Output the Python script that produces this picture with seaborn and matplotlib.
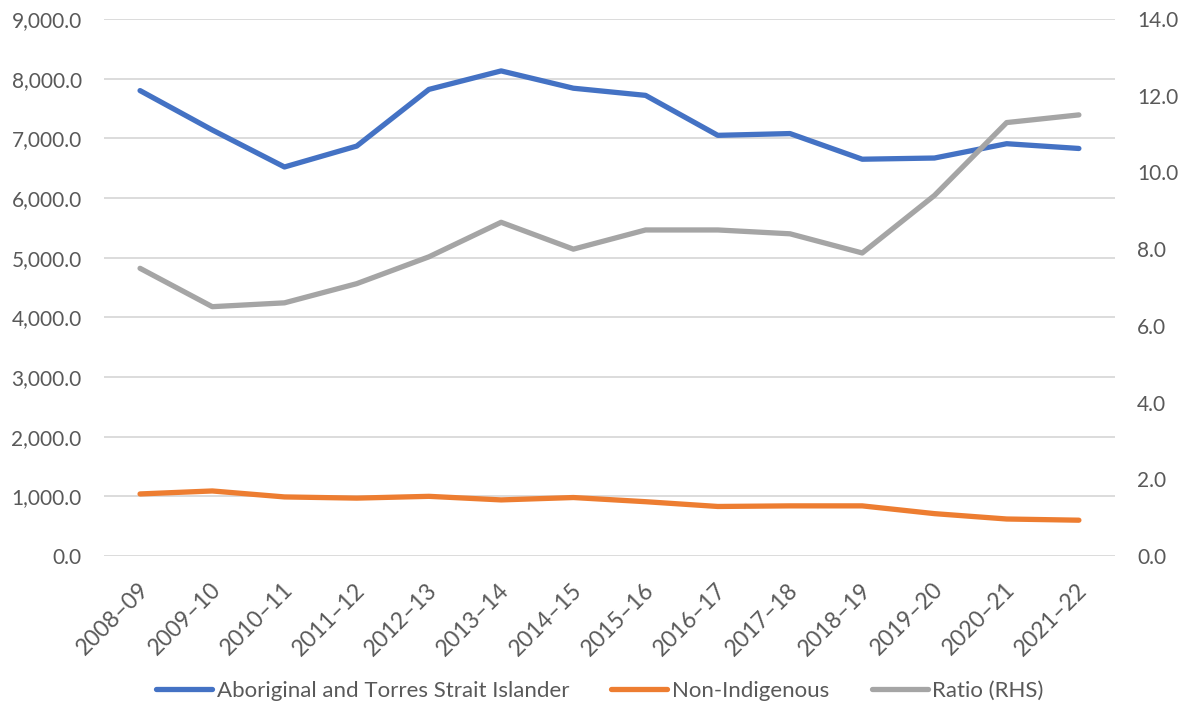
import pandas as pd
import numpy as np
import matplotlib
matplotlib.use("Agg")
import matplotlib.pyplot as plt
import matplotlib.transforms as mtransforms
import seaborn as sns
from matplotlib.ticker import FuncFormatter, MultipleLocator

#---------------------------------------------------
#   データ
#---------------------------------------------------
years = ["2008–09", "2009–10", "2010–11", "2011–12", "2012–13", "2013–14", "2014–15",
         "2015–16", "2016–17", "2017–18", "2018–19", "2019–20", "2020–21", "2021–22"]
aboriginal = [7800, 7140, 6520, 6870, 7820, 8130, 7840, 7720, 7050, 7080, 6650, 6670, 6910, 6830]
non_indigenous = [1040, 1090, 990, 970, 1000, 940, 980, 910, 830, 840, 840, 710, 620, 600]
ratio = [7.5, 6.5, 6.6, 7.1, 7.8, 8.7, 8.0, 8.5, 8.5, 8.4, 7.9, 9.4, 11.3, 11.5]

labels = ["Aboriginal and Torres Strait Islander", "Non-Indigenous", "Ratio (RHS)"]

df = pd.DataFrame({"Year": years,
                   labels[0]: aboriginal,
                   labels[1]: non_indigenous,
                   labels[2]: ratio})

sns.set_theme(style="white")
plt.rcParams['font.family'] = ['Lato', 'DejaVu Sans']

text_col = "#595959"
grid_col = "#D9D9D9"
colors = ["#4472C4", "#ED7D31", "#A5A5A5"]
lw = 3.8

fig = plt.figure(figsize=(11.92, 7.09), dpi=100)
ax = fig.add_axes([0.0872, 0.2158, 0.8482, 0.7574])
ax2 = ax.twinx()

# 左軸 2系列、右軸 比率
sns.lineplot(data=df, x="Year", y=labels[0], ax=ax, color=colors[0], linewidth=lw,
             sort=False, legend=False)
sns.lineplot(data=df, x="Year", y=labels[1], ax=ax, color=colors[1], linewidth=lw,
             sort=False, legend=False)
sns.lineplot(data=df, x="Year", y=labels[2], ax=ax2, color=colors[2], linewidth=lw,
             sort=False, legend=False)

for line in ax.lines + ax2.lines:
    line.set_solid_capstyle("round")
    line.set_solid_joinstyle("round")

ax.set_xlim(-0.5, len(years) - 0.5)
ax.set_ylim(0, 9000)
ax2.set_ylim(0, 14)
ax.yaxis.set_major_locator(MultipleLocator(1000))
ax2.yaxis.set_major_locator(MultipleLocator(2))
ax.yaxis.set_major_formatter(FuncFormatter(lambda v, p: f"{v:,.1f}"))
ax2.yaxis.set_major_formatter(FuncFormatter(lambda v, p: f"{v:.1f}"))

ax.grid(axis="y", color=grid_col, linewidth=1.3)
ax.set_axisbelow(True)
ax2.grid(False)
for a in (ax, ax2):
    for s in a.spines.values():
        s.set_visible(False)
    a.set_xlabel("")
    a.set_ylabel("")
    a.tick_params(length=0, labelsize=15, colors=text_col, pad=16)

ax.tick_params(axis="x", pad=22, labelsize=16.5)
offset = mtransforms.ScaledTranslation(0.05, 0, fig.dpi_scale_trans)
for lab in ax.get_xticklabels():
    lab.set_rotation(45)
    lab.set_ha("right")
    lab.set_va("center")
    lab.set_rotation_mode("anchor")
    lab.set_transform(lab.get_transform() + offset)

# 凡例 (Excel風に個別配置)
handles = ax.lines[:2] + ax2.lines[:1]
leg_x = [0.131, 0.513, 0.7315]
for h, lab, x0 in zip(handles, labels, leg_x):
    leg = fig.legend([h], [lab], loc="center left", bbox_to_anchor=(x0, 0.026),
                     frameon=False, fontsize=16, handlelength=2.5, handletextpad=0.22,
                     borderaxespad=0, borderpad=0)
    for t in leg.get_texts():
        t.set_color(text_col)

fig.savefig("out.png", dpi=100)
